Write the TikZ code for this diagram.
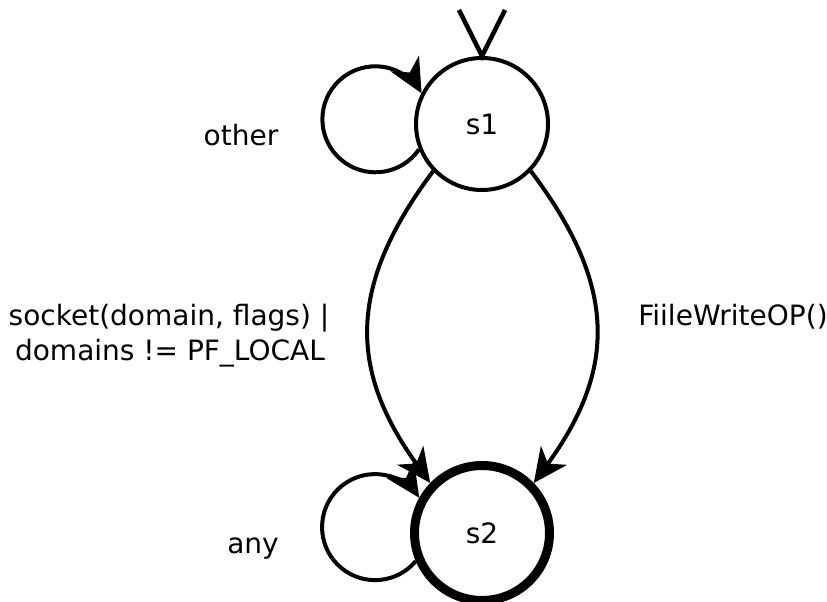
\documentclass[tikz,border=0pt]{standalone}
\usepackage{fontspec}
\setmainfont{DejaVu Sans}
\usetikzlibrary{arrows.meta}
\tikzset{
  state/.style={circle, draw, line width=4pt, minimum size=132pt, inner sep=0pt, font=\fontsize{28}{32}\selectfont},
  accepting/.style={circle, draw, line width=9pt, minimum size=135pt, inner sep=0pt, font=\fontsize{28}{32}\selectfont},
  edge/.style={line width=4pt, -{Stealth[length=34pt,width=32pt,inset=10pt]}},
  initline/.style={line width=4.5pt},
  lbl/.style={anchor=base, inner sep=0pt, font=\fontsize{28}{32}\selectfont}
}
\begin{document}
\begin{tikzpicture}[x=1pt,y=1pt]
\useasboundingbox (0,0) rectangle (827,602);
\node[state] (s1) at (482,478) {s1};
\node[accepting] (s2) at (482,69) {s2};
\coordinate (i1) at (459,592);
\coordinate (i2) at (505,592);
\draw[initline] (i1) -- (s1.north) -- (i2);
\draw[edge] (s1.202) arc[start angle=-34.7, end angle=-330.7, radius=53pt];
\draw[edge] (s2.203) arc[start angle=-39.9, end angle=-326.5, radius=53pt];
\draw[edge] (s1.224) .. controls (348,317) and (348,233) .. (s2.136);
\draw[edge] (s1.316) .. controls (617,317) and (617,233) .. (s2.44);
\node[lbl] (lother) at (241,456) {other};
\node[lbl] (lsock1) at (169,276) {socket(domain, flags) |};
\node[lbl] (lsock2) at (170,241) {domains != PF\_LOCAL};
\node[lbl] (lfile) at (733,276) {FiileWriteOP()};
\node[lbl] (lany) at (253,48) {any};
\end{tikzpicture}
\end{document}
